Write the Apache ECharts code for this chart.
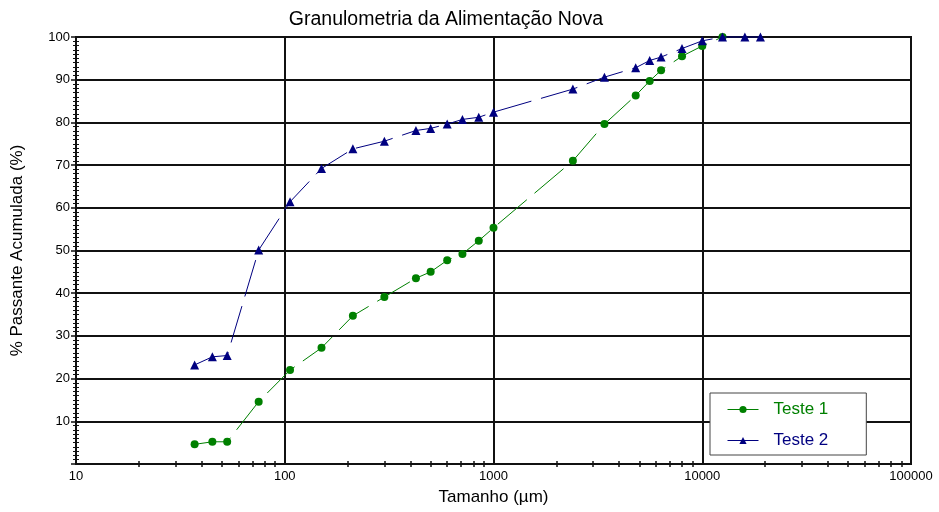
<!DOCTYPE html>
<html>
<head>
<meta charset="utf-8">
<script src="https://cdn.jsdelivr.net/npm/echarts@6/dist/echarts.min.js"></script>
<style>
html,body{margin:0;padding:0;background:#fff;}
#chart{width:939px;height:512px;}
</style>
</head>
<body>
<div id="chart"></div>
<script>
// Sizes (µm) and cumulative passing (%)
const teste1Sizes = [37, 45, 53, 75, 106, 150, 212, 300, 425, 500, 600, 710, 850, 1000, 2400, 3400, 4800, 5600, 6350, 8000, 10000, 12500];
const teste1Values = [4.6, 5.2, 5.2, 14.6, 22.0, 27.2, 34.7, 39.1, 43.5, 45.0, 47.7, 49.2, 52.3, 55.3, 71.0, 79.6, 86.3, 89.7, 92.2, 95.5, 97.9, 100];
const teste2Sizes = [37, 45, 53, 75, 106, 150, 212, 300, 425, 500, 600, 710, 850, 1000, 2400, 3400, 4800, 5600, 6350, 8000, 10000, 12500, 16000, 19000];
const teste2Values = [23.2, 25.1, 25.4, 50.1, 61.4, 69.2, 73.8, 75.6, 78.1, 78.6, 79.6, 80.7, 81.2, 82.4, 87.8, 90.6, 92.8, 94.5, 95.3, 97.3, 99.1, 100, 100, 100];
const seriesNames = ['Teste 1', 'Teste 2'];
const xTickLabels = [10, 100, 1000, 10000, 100000];
const yTickLabels = [10, 20, 30, 40, 50, 60, 70, 80, 90, 100];

const minorX = [];
for (let d = 10; d < 100000; d *= 10) {
  for (let k = 2; k <= 9; k++) minorX.push(k * d);
}

const FONT = 'Liberation Sans, Arial, sans-serif';
const GREEN = '#008000';
const NAVY = '#000080';
const GRIDC = '#111111';

const chart = echarts.init(document.getElementById('chart'), null, {renderer: 'canvas'});

function pairs(xs, ys) { return xs.map((x, i) => [x, ys[i]]); }

const baseX = {
  type: 'log', logBase: 10, min: 10, max: 100000, position: 'bottom'
};
const baseY = {
  type: 'value', min: 0, max: 100, interval: 10, position: 'left'
};

chart.setOption({
  animation: false,
  backgroundColor: '#fff',
  title: {
    text: 'Granulometria da Alimentação Nova',
    left: 441, top: 5, textAlign: 'center',
    textStyle: {fontFamily: FONT, fontSize: 19.5, fontWeight: 'normal', color: '#000'}
  },
  grid: {
    left: 76, right: 28, top: 37, bottom: 48,
    show: true, borderColor: GRIDC, borderWidth: 2, backgroundColor: 'transparent'
  },
  legend: {
    orient: 'vertical',
    left: 710, top: 393,
    padding: [8, 38, 6, 17],
    itemWidth: 31, itemHeight: 9, itemGap: 14,
    backgroundColor: '#fff',
    borderColor: '#444', borderWidth: 1,
    lineStyle: {width: 1},
    data: [
      {name: 'Teste 1', textStyle: {color: GREEN}},
      {name: 'Teste 2', textStyle: {color: NAVY}}
    ],
    textStyle: {fontFamily: FONT, fontSize: 17, padding: [0, 0, 0, 10]}
  },
  xAxis: [
    Object.assign({}, baseX, {
      name: 'Tamanho (µm)', nameLocation: 'middle', nameGap: 25,
      nameTextStyle: {fontFamily: FONT, fontSize: 17, color: '#000'},
      axisLine: {show: true, lineStyle: {color: GRIDC, width: 2}},
      axisTick: {show: false},
      axisLabel: {show: true, margin: 6, fontFamily: FONT, fontSize: 13, color: '#000',
        formatter: v => String(Math.round(v))},
      splitLine: {show: true, lineStyle: {color: GRIDC, width: 2}},
      minorTick: {show: false}
    }),
    Object.assign({}, baseX, {
      axisLine: {show: false},
      axisTick: {show: true, inside: false, length: 3, customValues: minorX, lineStyle: {color: GRIDC, width: 1.5}},
      axisLabel: {show: false},
      splitLine: {show: false}
    }),
    Object.assign({}, baseX, {
      axisLine: {show: false},
      axisTick: {show: true, inside: true, length: 3, customValues: minorX, lineStyle: {color: GRIDC, width: 1.5}},
      axisLabel: {show: false},
      splitLine: {show: false}
    })
  ],
  yAxis: [
    Object.assign({}, baseY, {
      name: '% Passante Acumulada (%)', nameLocation: 'middle', nameGap: 50,
      nameTextStyle: {fontFamily: FONT, fontSize: 17, color: '#000'},
      axisLine: {show: true, lineStyle: {color: GRIDC, width: 2}},
      axisTick: {show: true, inside: false, length: 5, lineStyle: {color: GRIDC, width: 1.5}},
      minorTick: {show: true, splitNumber: 10, length: 3, lineStyle: {color: GRIDC, width: 1}},
      axisLabel: {show: true, margin: 6, fontFamily: FONT, fontSize: 13, color: '#000',
        formatter: v => (yTickLabels.indexOf(v) >= 0 ? String(v) : '')},
      splitLine: {show: true, lineStyle: {color: GRIDC, width: 2}}
    }),
    Object.assign({}, baseY, {
      axisLine: {show: false},
      axisTick: {show: false, inside: true},
      minorTick: {show: true, splitNumber: 10, length: 3, lineStyle: {color: GRIDC, width: 1}},
      axisLabel: {show: false},
      splitLine: {show: false}
    })
  ],
  series: [
    {
      name: seriesNames[0], type: 'line', xAxisIndex: 0, yAxisIndex: 0,
      data: pairs(teste1Sizes, teste1Values),
      symbol: 'circle', symbolSize: 8, clip: false,
      itemStyle: {color: GREEN},
      lineStyle: {color: GREEN, width: 1, type: [38, 10]},
      z: 5
    },
    {
      name: seriesNames[1], type: 'line', xAxisIndex: 0, yAxisIndex: 0,
      data: pairs(teste2Sizes, teste2Values),
      symbol: 'triangle', symbolSize: 9, clip: false,
      itemStyle: {color: NAVY},
      lineStyle: {color: NAVY, width: 1, type: [38, 10]},
      z: 6
    }
  ]
});
</script>
</body>
</html>
